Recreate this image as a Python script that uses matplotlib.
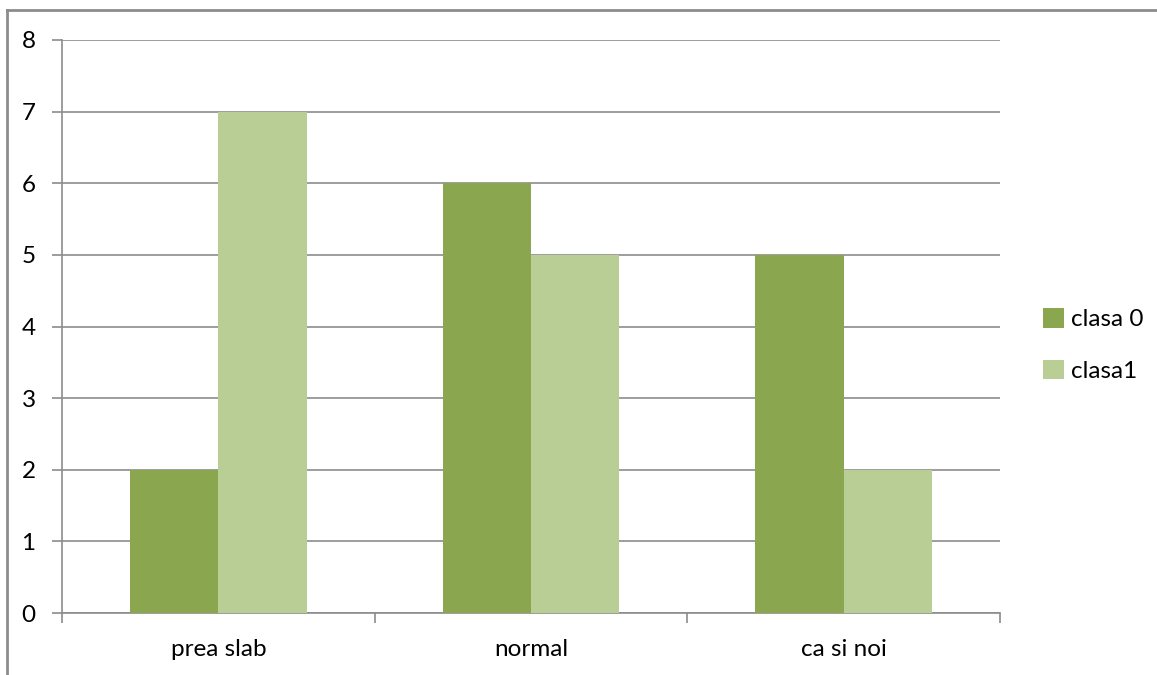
import matplotlib
matplotlib.use("Agg")
import matplotlib.pyplot as plt
import numpy as np

categories = ["prea slab", "normal", "ca si noi"]
series_names = ["clasa 0", "clasa1"]
clasa0 = [2, 6, 5]
clasa1 = [7, 5, 2]
colors = ["#8AA64E", "#B9CE95"]
yticks = [0, 1, 2, 3, 4, 5, 6, 7, 8]

plt.rcParams["font.family"] = ["Lato", "DejaVu Sans"]

W, H = 1157, 675
fig = plt.figure(figsize=(W / 100, H / 100), dpi=100)

# chart area frame (left and top edges visible)
fig.add_artist(plt.Line2D([7 / W, 7 / W], [0, 1 - 10 / H], color="#8C8C8C", lw=2))
fig.add_artist(plt.Line2D([7 / W, 1], [1 - 10 / H, 1 - 10 / H], color="#8C8C8C", lw=2))

ax = fig.add_axes([62 / W, 1 - 613 / H, (1000 - 62) / W, (613 - 40) / H])

x = np.arange(len(categories))
bw = 0.283
ax.bar(x - bw / 2, clasa0, width=bw, color=colors[0], label=series_names[0], zorder=3)
ax.bar(x + bw / 2, clasa1, width=bw, color=colors[1], label=series_names[1], zorder=3)

ax.set_xlim(-0.5, len(categories) - 0.5)
ax.set_ylim(0, 8)
ax.set_yticks(yticks)
ax.yaxis.grid(True, color="#8C8C8C", lw=1.2, zorder=0)
ax.set_axisbelow(True)

for s in ["top", "right"]:
    ax.spines[s].set_visible(False)
for s in ["left", "bottom"]:
    ax.spines[s].set_color("#8C8C8C")
    ax.spines[s].set_linewidth(1.2)

fs = 17.5
ax.set_xticks(np.arange(len(categories) + 1) - 0.5)
ax.set_xticklabels([])
ax.set_xticks(x, minor=True)
ax.set_xticklabels(categories, minor=True)
ax.tick_params(axis="x", which="major", length=7, color="#8C8C8C", width=1.2)
ax.tick_params(axis="x", which="minor", length=0, pad=19, labelsize=fs)
ax.tick_params(axis="y", length=7, color="#8C8C8C", width=1.2, pad=12, labelsize=fs)

ax.legend(loc="center left", bbox_to_anchor=(1021 / W, 1 - 345 / H),
          bbox_transform=fig.transFigure, frameon=False, fontsize=fs,
          handlelength=0.85, handleheight=0.85, handletextpad=0.3,
          labelspacing=1.2)

fig.savefig("out.png", dpi=100, facecolor="white")
